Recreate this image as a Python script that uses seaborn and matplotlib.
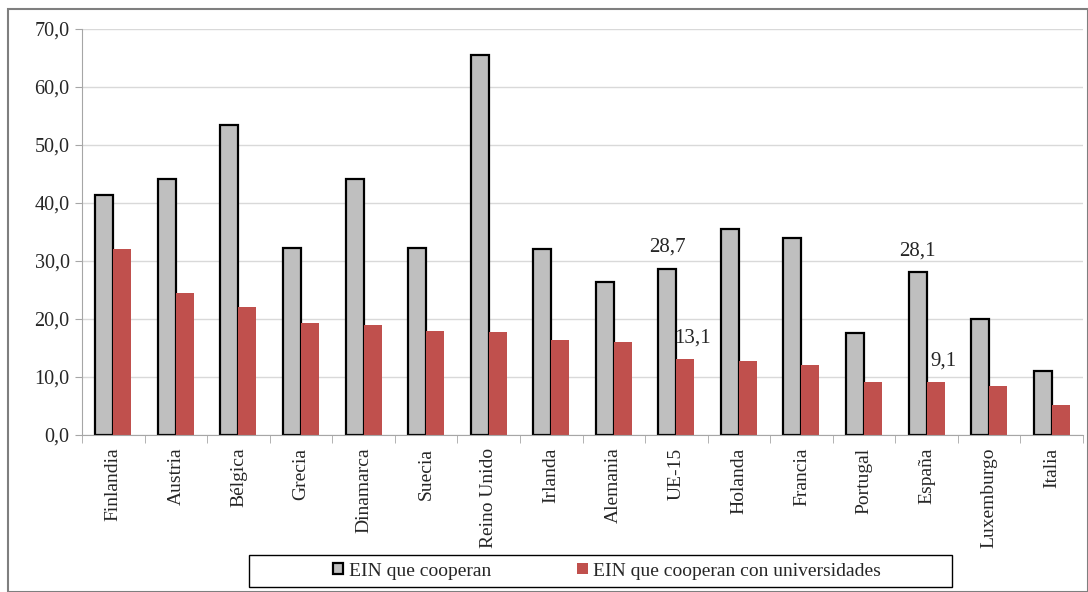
import pandas as pd
import seaborn as sns
import matplotlib as mpl
from matplotlib import pyplot as plt
from matplotlib.ticker import FuncFormatter, FixedLocator

countries = ['Finlandia', 'Austria', 'Bélgica', 'Grecia', 'Dinamarca', 'Suecia',
             'Reino Unido', 'Irlanda', 'Alemania', 'UE-15', 'Holanda', 'Francia',
             'Portugal', 'España', 'Luxemburgo', 'Italia']
coop = [41.4, 44.1, 53.4, 32.2, 44.1, 32.2, 65.6, 32.0, 26.4, 28.7, 35.5, 34.0,
        17.6, 28.1, 20.0, 11.1]
coop_univ = [32.1, 24.4, 22.0, 19.3, 18.9, 17.9, 17.8, 16.4, 16.1, 13.1, 12.7, 12.0,
             9.1, 9.1, 8.5, 5.2]
series = ['EIN que cooperan', 'EIN que cooperan con universidades']
labelled = ['UE-15', 'España']

df = pd.DataFrame({
    'pais': countries * 2,
    'valor': coop + coop_univ,
    'serie': [series[0]] * len(countries) + [series[1]] * len(countries),
})

sns.set_style('white')
plt.rcParams['font.family'] = ['Liberation Serif', 'DejaVu Serif']
plt.rcParams['font.size'] = 14

fig = plt.figure(figsize=(10.88, 5.92), dpi=100)
ax = fig.add_axes([82 / 1088, 1 - 435 / 592, (1083 - 82) / 1088, (435 - 29) / 592])

sns.barplot(data=df, x='pais', y='valor', hue='serie', order=countries,
            palette=['#BFBFBF', '#C0504D'], saturation=1, width=0.575, gap=0,
            ax=ax, legend=False)

n = len(countries)
for bar in ax.patches[:n]:
    bar.set_edgecolor('black')
    bar.set_linewidth(1.6)
for bar in ax.patches[n:2 * n]:
    bar.set_edgecolor('none')

# data labels
for name in labelled:
    i = countries.index(name)
    g = ax.patches[i]
    r = ax.patches[n + i]
    ax.text(g.get_x() + g.get_width() / 2, coop[i] + 2.0,
            f'{coop[i]:.1f}'.replace('.', ','), ha='center', va='bottom', fontsize=15)
    ax.text(r.get_x() + r.get_width() / 2 + 0.12, coop_univ[i] + 2.0,
            f'{coop_univ[i]:.1f}'.replace('.', ','), ha='center', va='bottom', fontsize=15)

ax.set_ylim(0, 70)
ax.set_xlim(-0.5, n - 0.5)
ax.set_yticks(range(0, 71, 10))
ax.yaxis.set_major_formatter(FuncFormatter(lambda v, p: f'{v:.1f}'.replace('.', ',')))
ax.grid(axis='y', color='#D9D9D9', linewidth=1)
ax.set_axisbelow(True)
ax.set_xlabel('')
ax.set_ylabel('')
ax.set_xticks(range(n))
ax.set_xticklabels(countries, rotation=90)
ax.xaxis.set_minor_locator(FixedLocator([i - 0.5 for i in range(n + 1)]))
ax.tick_params(axis='x', which='major', length=0, pad=9, labelsize=14)
ax.tick_params(axis='x', which='minor', length=6, color='#A6A6A6', bottom=True)
ax.tick_params(axis='y', length=5, color='#A6A6A6', left=True, labelsize=14.5, pad=4)

for side in ['top', 'right']:
    ax.spines[side].set_visible(False)
for side in ['left', 'bottom']:
    ax.spines[side].set_color('#A6A6A6')

# legend (frame drawn separately to match the wide box)
handles = [mpl.patches.Patch(facecolor='#BFBFBF', edgecolor='black', linewidth=1.6),
           mpl.patches.Patch(facecolor='#C0504D', edgecolor='none')]
fig.legend(handles, series, loc='center', bbox_to_anchor=(607 / 1088, 1 - 571 / 592),
           ncol=2, frameon=False, fontsize=14, handlelength=0.55, handleheight=0.55,
           handletextpad=0.3, columnspacing=4.4, borderaxespad=0)
fig.add_artist(mpl.patches.Rectangle((249 / 1088, 1 - 587 / 592), (952 - 249) / 1088,
                                     (587 - 555) / 592, transform=fig.transFigure,
                                     fill=False, edgecolor='black', linewidth=1))

# outer chart border
fig.add_artist(mpl.patches.Rectangle((8 / 1088, 0), 1 - 8 / 1088, 1 - 9 / 592,
                                     transform=fig.transFigure, fill=False,
                                     edgecolor='#7F7F7F', linewidth=1.5))

fig.savefig('out.png', dpi=100)
